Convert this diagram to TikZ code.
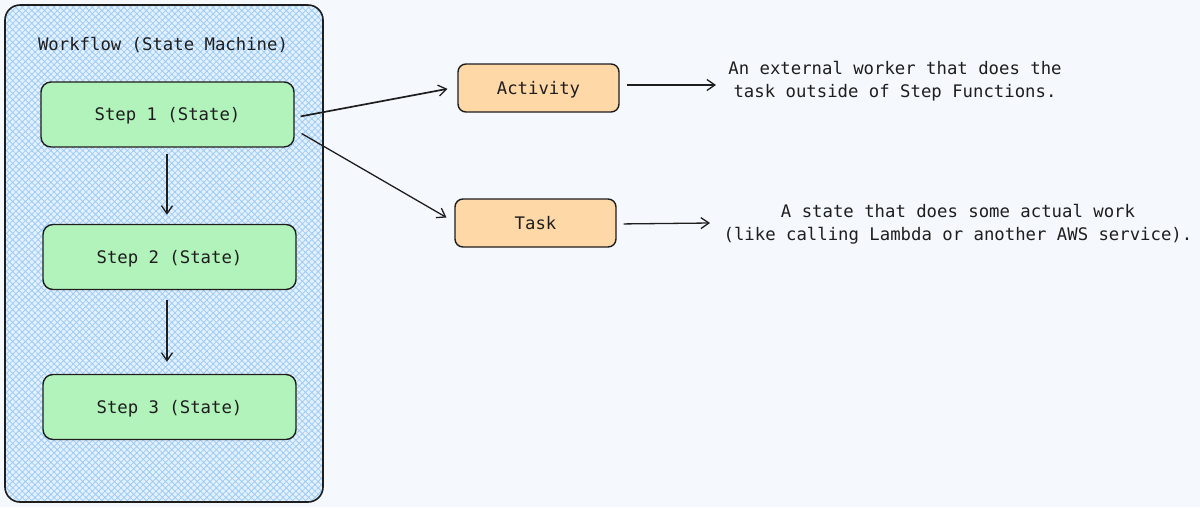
\documentclass[tikz,border=0pt]{standalone}
\usepackage{fontspec}
\setmonofont{DejaVu Sans Mono}
\usetikzlibrary{arrows.meta,patterns.meta,calc}
\definecolor{bg}{HTML}{F5F9FD}
\definecolor{wfbase}{HTML}{E4F1FD}
\definecolor{hatchc}{HTML}{9CCCF7}
\definecolor{stepgreen}{HTML}{B2F2BB}
\definecolor{boxorange}{HTML}{FFD8A8}
\definecolor{ink}{HTML}{1E1E1E}
\tikzset{
  wfbox/.style={draw=ink, line width=1.6pt, rounded corners=15pt,
    minimum width=318pt, minimum height=497pt,
    preaction={fill=wfbase},
    pattern={Hatch[angle=45,distance=4.5pt,line width=0.8pt]}, pattern color=hatchc},
  stepbox/.style={draw=ink, line width=1.4pt, fill=stepgreen, rounded corners=10pt,
    minimum width=253pt, minimum height=65pt, text=ink, text height=14pt, text depth=1.5pt},
  opbox/.style={draw=ink, line width=1.4pt, fill=boxorange, rounded corners=8pt,
    minimum width=161pt, minimum height=48pt, text=ink, text height=14pt, text depth=1.5pt},
  conn/.style={draw=ink, line width=1.3pt,
    -{Straight Barb[length=8pt,width=11pt,line width=1.3pt]}},
  desc/.style={align=center, inner sep=0pt, text=ink},
}
\begin{document}
\begin{tikzpicture}[x=1pt,y=-1pt,font=\ttfamily\fontsize{17.3}{23}\selectfont]
\fill[bg] (0,0) rectangle (1200,507);
\useasboundingbox (0,0) rectangle (1200,507);

\node[wfbox] (wf) at (164,253.5) {};
\node[desc] (title) at (163,45) {Workflow (State Machine)};

\node[stepbox] (s1) at (167.5,114.5) {Step 1 (State)};
\node[stepbox] (s2) at (169.5,257) {Step 2 (State)};
\node[stepbox] (s3) at (169.5,407) {Step 3 (State)};

\node[opbox] (act) at (538.5,88) {Activity};
\node[opbox] (task) at (535.5,223) {Task};

\node[desc] (t1) at (895,81) {An external worker that does the\\task outside of Step Functions.};
\node[desc] (t2) at (958,224.5) {A state that does some actual work\\(like calling Lambda or another AWS service).};

\coordinate (e1) at (716,85);
\coordinate (e2) at (710,223);

\draw[conn, shorten <=6pt, shorten >=9pt] ([xshift=-0.5pt]s1.south) -- ([xshift=-2.5pt]s2.north);
\draw[conn, shorten <=10pt, shorten >=12pt] ([xshift=-2.5pt]s2.south) -- ([xshift=-2.5pt]s3.north);

\draw[conn, line width=1.7pt, shorten <=6pt, shorten >=10pt] ([yshift=-3pt]s1.east) -- ([yshift=1pt]act.west);
\draw[conn, shorten <=8pt, shorten >=9pt] ([yshift=-15pt]s1.east) -- ([yshift=1pt]task.west);

\draw[conn, shorten <=7pt] ([yshift=3pt]act.east) -- (e1);
\draw[conn, shorten <=7pt] ([yshift=-1pt]task.east) -- (e2);
\end{tikzpicture}
\end{document}
